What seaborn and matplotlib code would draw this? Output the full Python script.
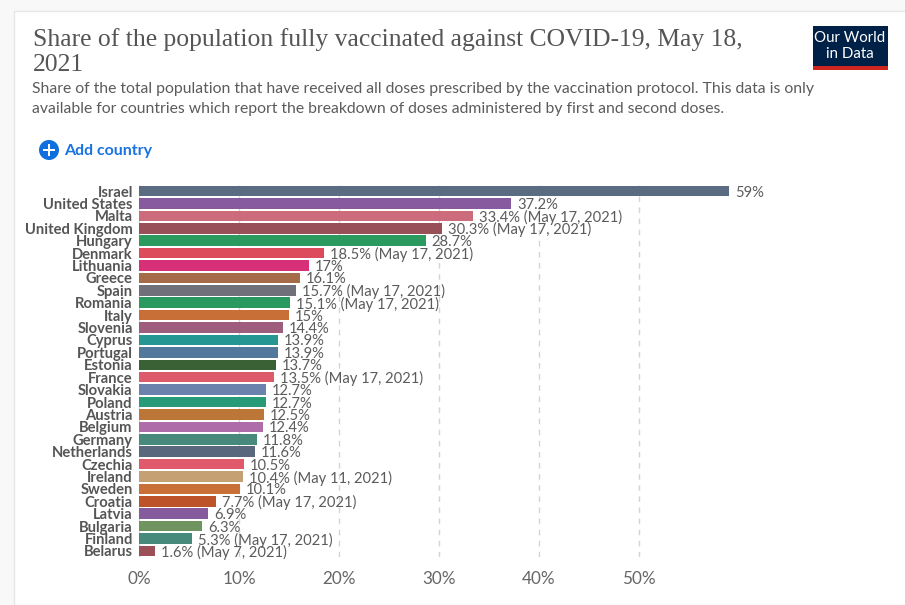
import matplotlib
matplotlib.use("Agg")
import matplotlib.pyplot as plt
from matplotlib.patches import Rectangle, Circle
import pandas as pd
import seaborn as sns

countries = ["Israel", "United States", "Malta", "United Kingdom", "Hungary", "Denmark",
             "Lithuania", "Greece", "Spain", "Romania", "Italy", "Slovenia", "Cyprus",
             "Portugal", "Estonia", "France", "Slovakia", "Poland", "Austria", "Belgium",
             "Germany", "Netherlands", "Czechia", "Ireland", "Sweden", "Croatia", "Latvia",
             "Bulgaria", "Finland", "Belarus"]
shares = [59, 37.2, 33.4, 30.3, 28.7, 18.5, 17, 16.1, 15.7, 15.1, 15, 14.4, 13.9, 13.9, 13.7,
          13.5, 12.7, 12.7, 12.5, 12.4, 11.8, 11.6, 10.5, 10.4, 10.1, 7.7, 6.9, 6.3, 5.3, 1.6]
dates = ["", "", "May 17, 2021", "May 17, 2021", "", "May 17, 2021", "", "", "May 17, 2021",
         "May 17, 2021", "", "", "", "", "", "May 17, 2021", "", "", "", "", "", "", "",
         "May 11, 2021", "", "May 17, 2021", "", "", "May 17, 2021", "May 7, 2021"]
colors = ["#5b6b82", "#875a9f", "#cb6b7b", "#984f58", "#2a9a5f", "#dd4a5c", "#d83078", "#a66b48",
          "#6f7079", "#29995f", "#c86f38", "#9e5d7c", "#269692", "#52799b", "#3a6136", "#dd5a6b",
          "#6b82ac", "#279b77", "#bc7637", "#ae6ca8", "#478a7c", "#5a687e", "#e05a6b", "#c4a072",
          "#c96f38", "#bd5429", "#865b9d", "#6f945f", "#478a7c", "#9b4f57"]
x_ticks = [0, 10, 20, 30, 40, 50]

W, H = 905, 605


def fx(px):
    return px / W


def fy(py):
    return 1 - py / H


sns.set_theme(style="white")
plt.rcParams["font.family"] = ["Lato", "DejaVu Sans"]

fig = plt.figure(figsize=(9.05, 6.05), dpi=100, facecolor="#f8f8f8")

# white card behind everything
fig.patches.append(Rectangle((fx(14), 0), 1, fy(11), transform=fig.transFigure,
                             facecolor="white", edgecolor="#e6e6e6", lw=1, zorder=-5))

ax = fig.add_axes([fx(139), fy(557.2), fx(905 - 139), (557.2 - 184.8) / H])
ax.patch.set_alpha(0)

df = pd.DataFrame({"country": countries, "share": shares})
sns.barplot(data=df, x="share", y="country", hue="country", palette=colors, dodge=False,
            saturation=1, width=0.85, legend=False, ax=ax, zorder=3,
            edgecolor="none", linewidth=0)

ax.set_xlim(0, 76.6)
ax.set_ylim(len(countries) - 0.5, -0.5)
ax.set_xlabel("")
ax.set_ylabel("")
sns.despine(ax=ax, left=True, bottom=True)
for t in x_ticks:
    ax.axvline(t, color="#d4d4d4", lw=1, ls=(0, (4, 4)), zorder=1)

ax.set_xticks(x_ticks)
ax.set_xticklabels([f"{t}%" for t in x_ticks], fontsize=12.3, color="#666666")
ax.tick_params(axis="x", length=0, pad=10)
ax.tick_params(axis="y", length=0, pad=4.5)
for lab in ax.get_yticklabels():
    lab.set_fontsize(10.6)
    lab.set_color("#555555")
    lab.set_fontweight("bold")

for i, (v, d) in enumerate(zip(shares, dates)):
    txt = f"{v:g}%" + (f" ({d})" if d else "")
    ax.annotate(txt, (v, i), xytext=(4.2, 0), textcoords="offset points", va="center_baseline",
                ha="left", fontsize=10.6, color="#5b5b5b", zorder=4)

# header
title_font = "Liberation Serif"
fig.text(fx(33), fy(39.5), "Share of the population fully vaccinated against COVID-19, May 18,",
         family=title_font, fontsize=18.45, color="#555555", va="center")
fig.text(fx(33), fy(65), "2021", family=title_font, fontsize=18.45, color="#555555", va="center")
fig.text(fx(32), fy(89.5), "Share of the total population that have received all doses prescribed "
         "by the vaccination protocol. This data is only", fontsize=11.3, color="#5b5b5b", va="center")
fig.text(fx(32), fy(108.5), "available for countries which report the breakdown of doses "
         "administered by first and second doses.", fontsize=11.3, color="#5b5b5b", va="center")

# add country button
fig.patches.append(Circle((49, H - 150), 10, transform=None, facecolor="#0f6fde", edgecolor="none"))
fig.patches.append(Rectangle((43, H - 151.2), 12, 2.4, transform=None, facecolor="white", edgecolor="none"))
fig.patches.append(Rectangle((47.8, H - 156), 2.4, 12, transform=None, facecolor="white", edgecolor="none"))
fig.text(fx(64), fy(150.5), "Add country", fontsize=11.5, fontweight="bold", color="#1a73e0", va="center")

# logo
fig.patches.append(Rectangle((fx(813), fy(70)), 75 / W, 44 / H, transform=fig.transFigure,
                             facecolor="#002147", edgecolor="none"))
fig.patches.append(Rectangle((fx(813), fy(70)), 75 / W, 4 / H, transform=fig.transFigure,
                             facecolor="#ce261e", edgecolor="none"))
fig.text(fx(850), fy(46), "Our World\nin Data", fontsize=10.8, color="white", ha="center",
         va="center", linespacing=1.1)

fig.savefig("out.png", dpi=100, facecolor=fig.get_facecolor())
